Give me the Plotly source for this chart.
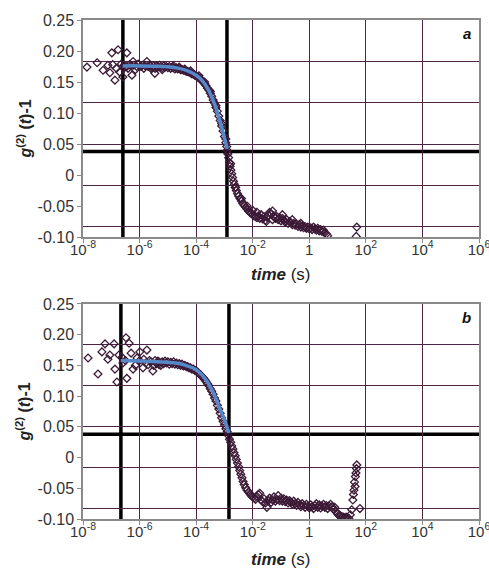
import numpy as np
import plotly.graph_objects as go

# ---------------- data (log10 of time in s, g2(t)-1) ----------------
a_logt = [-7.86, -7.50, -7.29, -7.12, -6.98, -6.87, -6.76, -6.70, -6.45, -6.23, -6.27, -6.59, -6.41,
          -5.74, -5.46, -7.05, -6.95, -6.82, -6.65, -6.52, -6.35, -6.15, -6.05, -5.95, -5.85, -5.65, -5.55,
          -6.55, -6.45, -6.30, -6.20, -6.10, -5.90, -5.80, -5.70, -5.60, -5.50, -5.45,
          -5.40, -5.35, -5.30, -5.25, -5.20, -5.15, -5.10, -5.05, -5.00, -4.95, -4.90, -4.85, -4.80, -4.75,
          -4.70, -4.65, -4.60, -4.55, -4.50, -4.45, -4.40, -4.35, -4.30, -4.25, -4.20, -4.15, -4.10, -4.05,
          -4.00, -3.95, -3.90, -3.85, -3.80, -3.75, -3.70, -3.65, -3.60, -3.55, -3.50, -3.45, -3.40, -3.35,
          -3.30, -3.25, -3.20, -3.15, -3.10, -3.05, -3.00, -2.95, -2.92, -2.90, -2.88, -2.85, -2.82, -2.80,
          -2.77, -2.74, -2.71, -2.68, -2.65, -2.62, -2.58, -2.54, -2.50, -2.45, -2.40, -2.35, -2.30, -2.25,
          -2.20, -2.15, -2.10, -2.05, -2.00, -1.95, -1.90, -1.85, -1.80, -1.75, -1.70, -1.65, -1.60, -1.55,
          -1.50, -1.45, -1.40, -1.35, -1.30, -1.25, -1.20, -1.15, -1.10, -1.05, -1.00, -0.95, -0.90, -0.85,
          -0.80, -0.75, -0.70, -0.65, -0.60, -0.55, -0.50, -0.45, -0.40, -0.35, -0.30, -0.25, -0.20, -0.15,
          -0.10, -0.05, 0.00, 0.05, 0.10, 0.15, 0.20, 0.25, 0.30, 0.35, 0.40, 0.45, 0.50, 0.55, 0.60, 0.65,
          -1.52, -1.85, -1.30, -0.95, -0.60, -0.30,
          -4.80, -4.60, -4.40, -4.20, -5.20, -5.60, -3.90, -3.70, -3.50, -3.30, -3.10, -2.95, -2.78, -2.60,
          -2.40, -2.20, -2.00, 1.68, 1.66]
a_g2 = [0.174, 0.181, 0.169, 0.177, 0.197, 0.153, 0.202, 0.166, 0.197, 0.183, 0.161, 0.158, 0.172,
        0.183, 0.164, 0.165, 0.178, 0.172, 0.179, 0.174, 0.178, 0.170, 0.179, 0.175, 0.172, 0.177, 0.173,
        0.177, 0.175, 0.176, 0.177, 0.175, 0.177, 0.176, 0.175, 0.176, 0.176, 0.172,
        0.176, 0.174, 0.177, 0.175, 0.173, 0.176, 0.174, 0.175, 0.173, 0.175, 0.172, 0.174, 0.173, 0.171,
        0.173, 0.171, 0.172, 0.170, 0.170, 0.169, 0.169, 0.167, 0.167, 0.166, 0.165, 0.163, 0.163, 0.161,
        0.160, 0.158, 0.157, 0.155, 0.152, 0.150, 0.147, 0.144, 0.140, 0.137, 0.132, 0.127, 0.121, 0.116,
        0.109, 0.103, 0.095, 0.088, 0.079, 0.071, 0.062, 0.052, 0.046, 0.040, 0.034, 0.028, 0.020, 0.014,
        0.008, 0.002, -0.004, -0.010, -0.015, -0.020, -0.025, -0.030, -0.034, -0.038, -0.042, -0.046, -0.049, -0.052,
        -0.055, -0.058, -0.060, -0.062, -0.064, -0.066, -0.067, -0.069, -0.066, -0.070, -0.064, -0.071, -0.067, -0.073,
        -0.068, -0.065, -0.060, -0.063, -0.058, -0.066, -0.070, -0.067, -0.072, -0.069, -0.074, -0.070, -0.073, -0.076,
        -0.072, -0.078, -0.075, -0.077, -0.080, -0.078, -0.081, -0.079, -0.083, -0.080, -0.084, -0.082, -0.085, -0.083,
        -0.086, -0.084, -0.087, -0.085, -0.088, -0.084, -0.087, -0.089, -0.086, -0.090, -0.088, -0.091, -0.089, -0.093, -0.095, -0.098,
        -0.075, -0.060, -0.072, -0.064, -0.072, -0.078,
        0.176, 0.174, 0.171, 0.168, 0.170, 0.172, 0.160, 0.150, 0.135, 0.112, 0.083, 0.058, 0.018, -0.020,
        -0.038, -0.050, -0.057, -0.084, -0.099]

a_fit_logt = [-6.60, -6.00, -5.50, -5.00, -4.60, -4.30, -4.00, -3.80, -3.60, -3.45, -3.30, -3.15, -3.00, -2.90]
a_fit_g2 = [0.176, 0.176, 0.1755, 0.1745, 0.172, 0.168, 0.161, 0.153, 0.140, 0.126, 0.108, 0.085, 0.060, 0.042]

b_logt = [-7.82, -7.47, -7.33, -7.22, -7.12, -7.05, -6.90, -6.87, -6.80, -6.73, -6.59, -6.48, -6.37, -6.45,
          -6.23, -6.09, -5.99, -5.74, -5.70, -5.88, -5.53, -5.31,
          -6.62, -6.50, -6.30, -6.15, -6.00, -5.85, -5.78, -5.65,
          -5.60, -5.50, -5.45, -5.40, -5.35, -5.30, -5.25, -5.20, -5.15, -5.10, -5.05, -5.00, -4.95, -4.90,
          -4.85, -4.80, -4.75, -4.70, -4.65, -4.60, -4.55, -4.50, -4.45, -4.40, -4.35, -4.30, -4.25, -4.20,
          -4.15, -4.10, -4.05, -4.00, -3.95, -3.90, -3.85, -3.80, -3.75, -3.70, -3.65, -3.60, -3.55, -3.50,
          -3.45, -3.40, -3.35, -3.30, -3.25, -3.20, -3.15, -3.10, -3.05, -3.00, -2.95, -2.90, -2.86, -2.82,
          -2.78, -2.74, -2.70, -2.66, -2.62, -2.58, -2.54, -2.50, -2.46, -2.42, -2.38, -2.34, -2.30, -2.25,
          -2.20, -2.15, -2.10, -2.05, -2.00, -1.95, -1.90, -1.85, -1.80, -1.75, -1.70, -1.65, -1.60, -1.55,
          -1.50, -1.45, -1.40, -1.35, -1.30, -1.25, -1.20, -1.15, -1.10, -1.05, -1.00, -0.95, -0.90, -0.85,
          -0.80, -0.75, -0.70, -0.65, -0.60, -0.55, -0.50, -0.45, -0.40, -0.35, -0.30, -0.25, -0.20, -0.15,
          -0.10, -0.05, 0.00, 0.05, 0.10, 0.15, 0.20, 0.25, 0.30, 0.35, 0.40, 0.45, 0.50, 0.55, 0.60, 0.65,
          0.70, 0.75, 0.80, 0.85, 0.90, 0.95, 1.00, 1.05, 1.10, 1.15, 1.20, 1.25, 1.30, 1.35, 1.40, 1.45,
          1.50, 1.54, 1.58, 1.60, 1.63, 1.65, 1.67, 1.68, 1.79, 1.56, 1.62]
b_g2 = [0.162, 0.136, 0.172, 0.185, 0.160, 0.167, 0.185, 0.144, 0.123, 0.167, 0.154, 0.195, 0.186, 0.129,
        0.144, 0.162, 0.172, 0.175, 0.151, 0.146, 0.141, 0.151,
        0.163, 0.158, 0.170, 0.150, 0.158, 0.160, 0.154, 0.158,
        0.156, 0.150, 0.158, 0.153, 0.157, 0.155, 0.150, 0.156, 0.153, 0.157, 0.154, 0.156, 0.152, 0.155,
        0.153, 0.156, 0.152, 0.154, 0.151, 0.153, 0.150, 0.152, 0.149, 0.150, 0.148, 0.148, 0.146, 0.146,
        0.144, 0.144, 0.142, 0.141, 0.139, 0.137, 0.135, 0.132, 0.130, 0.127, 0.124, 0.120, 0.117, 0.112,
        0.108, 0.103, 0.097, 0.092, 0.085, 0.079, 0.072, 0.065, 0.059, 0.053, 0.047, 0.042, 0.036, 0.030,
        0.025, 0.019, 0.014, 0.008, 0.003, -0.003, -0.009, -0.015, -0.021, -0.027, -0.033, -0.039, -0.044, -0.049,
        -0.053, -0.056, -0.059, -0.062, -0.064, -0.066, -0.068, -0.063, -0.060, -0.058, -0.069, -0.072, -0.067, -0.074,
        -0.081, -0.070, -0.066, -0.073, -0.069, -0.064, -0.071, -0.068, -0.062, -0.070, -0.066, -0.071, -0.067, -0.072,
        -0.069, -0.074, -0.070, -0.073, -0.076, -0.071, -0.075, -0.078, -0.073, -0.077, -0.080, -0.075, -0.078, -0.081,
        -0.076, -0.079, -0.082, -0.077, -0.080, -0.083, -0.078, -0.075, -0.081, -0.077, -0.082, -0.079, -0.076, -0.081, -0.078, -0.083,
        -0.079, -0.076, -0.080, -0.084, -0.081, -0.088, -0.092, -0.094, -0.095, -0.096, -0.097, -0.098, -0.097, -0.098, -0.099, -0.093,
        -0.085, -0.069, -0.053, -0.040, -0.031, -0.025, -0.018, -0.012, -0.083, -0.060, -0.047]

b_fit_logt = [-6.66, -6.00, -5.50, -5.00, -4.60, -4.30, -4.00, -3.80, -3.60, -3.45, -3.30, -3.15, -3.00, -2.90, -2.84]
b_fit_g2 = [0.158, 0.157, 0.1565, 0.155, 0.153, 0.149, 0.143, 0.135, 0.123, 0.111, 0.096, 0.078, 0.062, 0.048, 0.040]

# reference (thick) lines
a_vlines_logt = [-6.59, -2.91]
b_vlines_logt = [-6.66, -2.84]
hline_g2 = 0.038

x_tickvals = [1e-8, 1e-6, 1e-4, 1e-2, 1, 1e2, 1e4, 1e6]
x_ticktext = ["10<sup>-8</sup>", "10<sup>-6</sup>", "10<sup>-4</sup>", "10<sup>-2</sup>", "1",
              "10<sup>2</sup>", "10<sup>4</sup>", "10<sup>6</sup>"]
y_tickvals = [0.25, 0.20, 0.15, 0.10, 0.05, 0.0, -0.05, -0.10]
y_ticktext = ["0.25", "0.20", "0.15", "0.10", "0.05", "0", "-0.05", "-0.10"]
panel_labels = ["a", "b"]

# ---------------- figure ----------------
MARK = "#3c1a37"
GRID = "#4e2447"
AXIS = "#8a8a8a"
FIT = "#5588c8"
FONT = "Liberation Sans, Arial, sans-serif"

fig = go.Figure()
panels = [
    (a_logt, a_g2, a_fit_logt, a_fit_g2, a_vlines_logt, "x", "y"),
    (b_logt, b_g2, b_fit_logt, b_fit_g2, b_vlines_logt, "x2", "y2"),
]
for lt, g, flt, fg, vl, xa, ya in panels:
    for v in vl:
        fig.add_shape(type="line", xref=xa, yref=ya + " domain",
                      x0=10 ** v, x1=10 ** v, y0=0, y1=1, line=dict(color="black", width=3.5), layer="below")
    fig.add_shape(type="line", xref=xa + " domain", yref=ya, x0=0, x1=1, y0=hline_g2, y1=hline_g2,
                  line=dict(color="black", width=3.5), layer="below")
    fig.add_trace(go.Scatter(
        x=10 ** np.array(lt), y=g, mode="markers", xaxis=xa, yaxis=ya,
        marker=dict(symbol="diamond-open", size=6, color=MARK, line=dict(width=1.3, color=MARK)),
        showlegend=False))
    fig.add_trace(go.Scatter(
        x=10 ** np.array(flt), y=fg, mode="lines", xaxis=xa, yaxis=ya,
        line=dict(color=FIT, width=3.5, shape="spline"), showlegend=False))

ytitle = "<b><i>g</i><sup>(2)</sup> (<i>t</i>)-1</b>"
xtitle = "<b><i>time</i></b> (s)"

xcommon = dict(type="log", range=[-8, 6], tickvals=x_tickvals, ticktext=x_ticktext, automargin=False,
               showgrid=True, gridcolor=GRID, gridwidth=1, showline=True, linecolor=AXIS, linewidth=1.5,
               mirror=True, ticks="outside", ticklen=4, tickcolor=AXIS, zeroline=False,
               ticklabeloverflow="allow", ticklabelstandoff=-6,
               tickfont=dict(family=FONT, size=15, color="#333"))
ycommon = dict(range=[-0.10, 0.25], tickvals=y_tickvals, ticktext=y_ticktext, showgrid=False, automargin=False,
               showline=True, linecolor=AXIS, linewidth=1.5, mirror=True, ticks="outside", ticklen=4,
               tickcolor=AXIS, zeroline=False, tickfont=dict(family=FONT, size=16, color="#333"),
               minor=dict(tick0=0.05, dtick=1 / 15, showgrid=True, gridcolor=GRID, gridwidth=1, ticks=""))

fig.update_layout(
    width=489, height=571, autosize=False, margin=dict(l=83, r=10, t=20, b=52, autoexpand=False),
    paper_bgcolor="white", plot_bgcolor="white",
    xaxis=dict(domain=[0, 1], anchor="y", **xcommon),
    yaxis=dict(domain=[0.5651, 1], anchor="x", **ycommon),
    xaxis2=dict(domain=[0, 1], anchor="y2", **xcommon),
    yaxis2=dict(domain=[0, 0.4309], anchor="x2", **ycommon),
)
for i, (xr, yr, xt_y) in enumerate([("x domain", "y domain", -0.175), ("x2 domain", "y2 domain", -0.19)]):
    fig.add_annotation(text="<b><i>" + panel_labels[i] + "</i></b>", xref=xr, yref=yr, x=0.985, y=0.985,
                       xanchor="right", yanchor="top", showarrow=False,
                       font=dict(family=FONT, size=15, color="#111"))
    fig.add_annotation(text=xtitle, xref=xr, yref=yr, x=0.5, y=xt_y, xanchor="center", yanchor="middle",
                       showarrow=False, font=dict(family=FONT, size=17, color="#222"))
    fig.add_annotation(text=ytitle, xref=xr, yref=yr, x=-0.149, y=0.5, xanchor="center", yanchor="middle",
                       textangle=-90, showarrow=False, font=dict(family=FONT, size=16, color="#222"))

fig.write_html(
    "out.html",
    config={"responsive": False, "displayModeBar": False},
    post_script="document.documentElement.style.overflow='hidden';"
                "document.body.style.margin='0';document.body.style.overflow='hidden';",
)
